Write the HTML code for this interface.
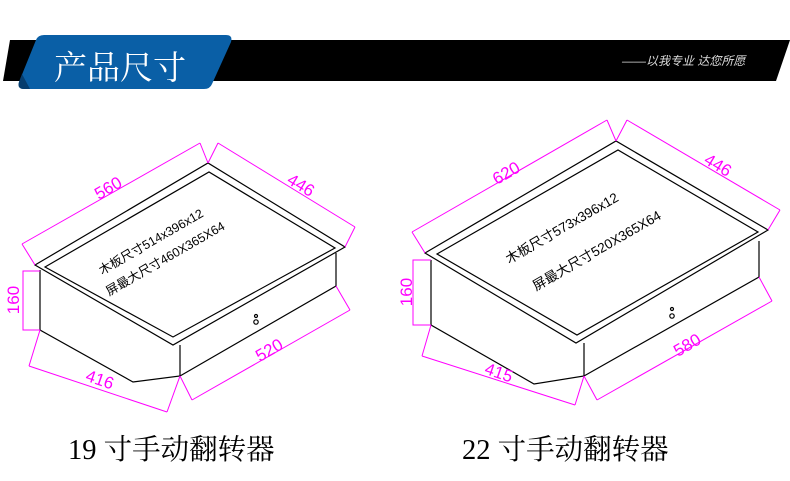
<!DOCTYPE html>
<html><head><meta charset="utf-8"><style>
html,body{margin:0;padding:0;background:#fff;width:790px;height:481px;overflow:hidden}
svg{display:block}
</style></head><body>
<svg width="790" height="481" viewBox="0 0 790 481" xmlns="http://www.w3.org/2000/svg">
<polygon points="10,40 790,40 776,81 3,81" fill="#000"/>
<path d="M44,35 L226,35 Q233,35 231,42 L212,84 Q210,89 204,89 L24,89 Q17,89 19,82 L36,40 Q38,35 44,35 Z" fill="#0a5fa6"/>
<path d="M19,82 L22,74 L30,89 L24,89 Q17,89 19,82Z" fill="#063d6e"/>
<text x="54" y="79" font-family="'Liberation Serif','Noto Serif CJK SC',serif" font-size="33" fill="#fff">产品尺寸</text>
<text x="622" y="65" font-family="'Liberation Sans','Noto Sans CJK SC',sans-serif" font-size="12" fill="#ddd" font-style="italic">——以我专业 达您所愿</text>

<g fill="none" stroke="#000" stroke-width="1.2">
<polygon points="35,265 208,163 345,247 173,345"/>
<polygon points="45,267 209,172 335,248 173,337"/>
<polyline points="40,270 40,330 133,382 180,376 180,345"/>
<polyline points="336,253 336,286 180,376"/>
<circle cx="256" cy="316" r="1.5"/><circle cx="256" cy="322" r="2.2"/>
<polygon points="425,253 616,141 768,230 576,343"/>
<polygon points="437,254 618,150 758,232 577,335"/>
<polyline points="431,260 431,325 534,384 584,376 584,343"/>
<polyline points="759,241 759,277 584,376"/>
<circle cx="672" cy="309" r="1.5"/><circle cx="672" cy="316" r="2.2"/>
</g>

<g fill="none" stroke="#ff00ff" stroke-width="1">
<line x1="22" y1="244" x2="200" y2="143"/>
<line x1="35" y1="265" x2="22" y2="244"/><line x1="208" y1="163" x2="200" y2="143"/>
<line x1="218" y1="143" x2="355" y2="227"/>
<line x1="208" y1="163" x2="218" y2="143"/><line x1="345" y1="247" x2="355" y2="227"/>
<polyline points="40,271 23,271 23,330 40,330"/>
<line x1="29" y1="366" x2="167" y2="412"/>
<line x1="40" y1="330" x2="29" y2="366"/><line x1="180" y1="376" x2="167" y2="412"/>
<line x1="192" y1="400" x2="350" y2="310"/>
<line x1="180" y1="376" x2="192" y2="400"/><line x1="336" y1="286" x2="350" y2="310"/>
<line x1="412" y1="232" x2="607" y2="120"/>
<line x1="425" y1="253" x2="412" y2="232"/><line x1="616" y1="141" x2="607" y2="120"/>
<line x1="627" y1="120" x2="780" y2="210"/>
<line x1="616" y1="141" x2="627" y2="120"/><line x1="768" y1="230" x2="780" y2="210"/>
<polyline points="431,260 413,260 413,325 431,325"/>
<line x1="422" y1="356" x2="575" y2="405"/>
<line x1="431" y1="325" x2="422" y2="356"/><line x1="584" y1="376" x2="575" y2="405"/>
<line x1="597" y1="400" x2="772" y2="301"/>
<line x1="584" y1="376" x2="597" y2="400"/><line x1="759" y1="277" x2="772" y2="301"/>
</g>

<g font-family="'Liberation Sans',sans-serif" font-size="17" fill="#ff00ff" text-anchor="middle">
<text transform="translate(111,193) rotate(-30)">560</text>
<text transform="translate(298,190) rotate(31)">446</text>
<text transform="translate(19,300) rotate(-90)">160</text>
<text transform="translate(98,385) rotate(19)">416</text>
<text transform="translate(272,355) rotate(-30)">520</text>
<text transform="translate(509,178) rotate(-30)">620</text>
<text transform="translate(715,170) rotate(31)">446</text>
<text transform="translate(412,292) rotate(-90)">160</text>
<text transform="translate(497,378) rotate(19)">415</text>
<text transform="translate(690,350) rotate(-30)">580</text>
</g>

<g font-family="'Liberation Sans','Noto Sans CJK SC',sans-serif" font-size="12.5" fill="#000">
<text transform="translate(102,275) rotate(-30)">木板尺寸514x396x12</text>
<text transform="translate(109,296) rotate(-30)">屏最大尺寸460X365X64</text>
</g>
<g font-family="'Liberation Sans','Noto Sans CJK SC',sans-serif" font-size="13.5" fill="#000">
<text transform="translate(509,264) rotate(-30)">木板尺寸573x396x12</text>
<text transform="translate(536,291) rotate(-30)">屏最大尺寸520X365X64</text>
</g>

<g font-family="'Liberation Serif','Noto Serif CJK SC',serif" font-size="28.5" fill="#000">
<text x="68" y="459">19 寸手动翻转器</text>
<text x="462" y="459">22 寸手动翻转器</text>
</g>
</svg>
</body></html>
